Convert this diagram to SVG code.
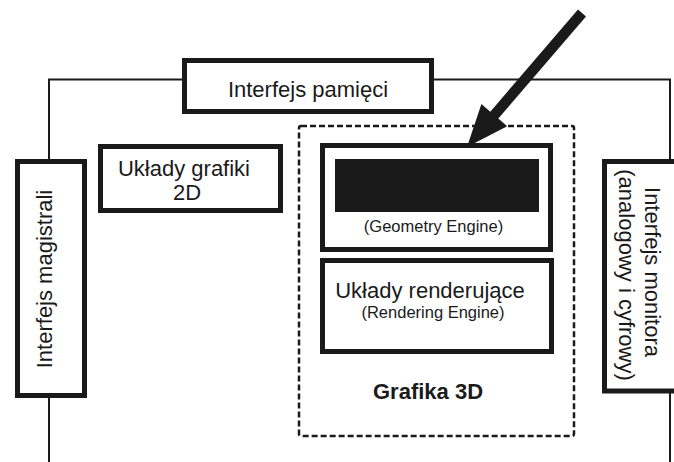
<svg xmlns="http://www.w3.org/2000/svg" width="674" height="462" viewBox="0 0 674 462">
<style>
.box{fill:#fff;stroke:#1a1a1a;stroke-width:5}
.wire{fill:none;stroke:#1a1a1a;stroke-width:2}
.dash{fill:none;stroke:#1a1a1a;stroke-width:2.5;stroke-dasharray:6 3}
.t{font-family:"Liberation Sans",Arial,sans-serif;font-size:22px;fill:#1a1a1a;text-anchor:middle}
.s{font-family:"Liberation Sans",Arial,sans-serif;font-size:16.5px;fill:#1a1a1a;text-anchor:middle}
.b{font-weight:bold}
</style>
<rect width="674" height="462" fill="#fff"/>
<g id="connectors">
<polyline class="wire" points="183,79.5 49,79.5 49,160"/>
<polyline class="wire" points="433,79.5 670,79.5 670,161"/>
<line class="wire" x1="49" y1="397" x2="49" y2="462"/>
<line class="wire" x1="670" y1="392" x2="670" y2="462"/>
<polygon fill="#1a1a1a" points="578,9.6 586,16.4 498.3,118.5 507.2,126.2 467,147 481.4,104 490.3,111.7"/>
</g>
<g id="grafika3d">
<rect class="dash" x="299" y="126" width="275" height="310" rx="2"/>
<text class="t b" x="428" y="399">Grafika 3D</text>
</g>
<g id="pamieci">
<rect class="box" x="184.5" y="60.5" width="247" height="51"/>
<text class="t" x="308" y="97">Interfejs pamięci</text>
</g>
<g id="magistrali">
<rect class="box" x="17.5" y="161.5" width="67" height="234"/>
<text class="t" transform="translate(52,279) rotate(-90)">Interfejs magistrali</text>
</g>
<g id="grafika2d">
<rect class="box" x="100.5" y="146.5" width="180" height="64"/>
<text class="t" x="184" y="176">Układy grafiki</text>
<text class="t" x="187" y="200">2D</text>
</g>
<g id="geometry">
<rect class="box" x="322.5" y="145.5" width="228" height="104"/>
<rect x="335" y="159" width="204" height="53" fill="#1a1a1a"/>
<text class="s" x="433.5" y="232">(Geometry Engine)</text>
</g>
<g id="rendering">
<rect class="box" x="322.5" y="260.5" width="229" height="91"/>
<text class="t" x="430" y="298">Układy renderujące</text>
<text class="s" x="433" y="318">(Rendering Engine)</text>
</g>
<g id="monitor">
<rect class="box" x="604.5" y="161.5" width="80" height="229.5"/>
<text class="t" transform="translate(645,272) rotate(90)">Interfejs monitora</text>
<text class="t" transform="translate(619,275) rotate(90)">(analogowy i cyfrowy)</text>
</g>
</svg>
